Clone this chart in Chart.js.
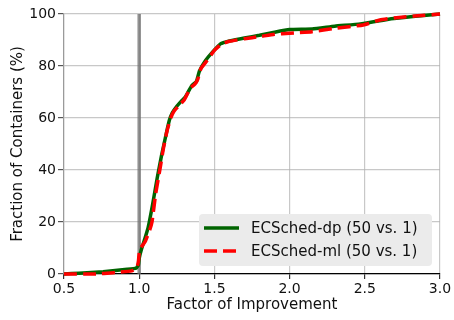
<!DOCTYPE html>
<html>
<head>
<meta charset="utf-8">
<script src="https://cdn.jsdelivr.net/npm/chart.js@4"></script>
<style>
  html, body { margin: 0; padding: 0; background: #fff; }
  #wrap { width: 454px; height: 320px; }
</style>
</head>
<body>
<div id="wrap"><canvas id="cdfChart" width="454" height="320"></canvas></div>
<script>
// CDF of factor of improvement
const factorDp   = [0.5, 0.6, 0.76, 0.92, 0.98, 0.995, 1.0, 1.015, 1.04, 1.06, 1.09, 1.12, 1.15, 1.18, 1.2, 1.22, 1.25, 1.28, 1.305, 1.33, 1.35, 1.38, 1.4, 1.44, 1.49, 1.54, 1.6, 1.7, 1.8, 1.9, 2.0, 2.15, 2.3, 2.47, 2.65, 2.82, 3.0];
const fractionDp = [0, 0.3, 0.9, 1.8, 2.3, 3.5, 6, 9.5, 14, 18, 27, 37, 46, 54, 59, 62, 64.5, 66.5, 68, 70.5, 72.5, 74, 78, 82, 85.5, 88.5, 89.6, 90.8, 91.8, 93, 94, 94.2, 95.3, 96.2, 97.9, 99, 100];

const factorMl   = [0.5, 0.7, 0.83, 0.95, 0.985, 0.995, 1.0, 1.01, 1.04, 1.07, 1.085, 1.11, 1.14, 1.16, 1.185, 1.21, 1.23, 1.26, 1.3, 1.34, 1.37, 1.39, 1.41, 1.45, 1.5, 1.55, 1.6, 1.7, 1.8, 1.9, 2.0, 2.15, 2.3, 2.49, 2.6, 2.71, 2.85, 3.0];
const fractionMl = [0, 0, 0.5, 1.2, 2.5, 5, 8, 10, 12.5, 17, 20, 31, 41, 48, 55, 60, 62.5, 64.5, 67, 71.5, 73, 75, 79, 82, 86, 88.5, 89.5, 90.5, 91.3, 92.2, 92.6, 93.2, 94.5, 95.8, 97.7, 98.6, 99.3, 100];

const baselineX = [1.0, 1.0];
const baselineY = [0, 100];

const xTicks = [0.5, 1.0, 1.5, 2.0, 2.5, 3.0];
const yTicks = [0, 20, 40, 60, 80, 100];

const labelDp = 'ECSched-dp (50 vs. 1)';
const labelMl = 'ECSched-ml (50 vs. 1)';

const toPoints = (xs, ys) => xs.map((x, i) => ({ x: x, y: ys[i] }));

const FONT = 'DejaVu Sans';

// legend drawn inside the plot, bottom right, like the original
const insideLegend = {
    id: 'insideLegend',
    afterDraw(chart) {
        const ctx = chart.ctx;
        const area = chart.chartArea;
        const w = 233, h = 52;
        const x0 = area.right - 8 - w;
        const y0 = area.bottom - 8 - h;
        ctx.save();
        ctx.fillStyle = '#ebebeb';
        ctx.beginPath();
        ctx.roundRect(x0, y0, w, h, 4);
        ctx.fill();

        const items = chart.data.datasets.filter(d => d.label);
        items.forEach((d, i) => {
            const cy = y0 + 14 + i * 23;
            ctx.strokeStyle = d.borderColor;
            ctx.lineWidth = d.borderWidth;
            ctx.setLineDash(d.borderDash || []);
            ctx.beginPath();
            ctx.moveTo(x0 + 5, cy);
            ctx.lineTo(x0 + 40, cy);
            ctx.stroke();
            ctx.setLineDash([]);
            ctx.fillStyle = '#111';
            ctx.font = '15px "' + FONT + '"';
            ctx.textBaseline = 'middle';
            ctx.fillText(d.label, x0 + 52, cy + 1);
        });
        ctx.restore();
    }
};

new Chart(document.getElementById('cdfChart'), {
    type: 'scatter',
    data: {
        datasets: [
            {
                label: labelDp,
                data: toPoints(factorDp, fractionDp),
                showLine: true,
                borderColor: '#006400',
                borderWidth: 3.5,
                pointRadius: 0,
                tension: 0.15,
                clip: 4,
                order: 1
            },
            {
                label: labelMl,
                data: toPoints(factorMl, fractionMl),
                showLine: true,
                borderColor: '#ff0000',
                borderWidth: 3.5,
                borderDash: [13, 6],
                pointRadius: 0,
                tension: 0.15,
                clip: 4,
                order: 0
            },
            {
                label: '',
                data: toPoints(baselineX, baselineY),
                showLine: true,
                borderColor: 'rgba(110,110,110,0.75)',
                borderWidth: 3.5,
                pointRadius: 0,
                order: 2
            }
        ]
    },
    plugins: [insideLegend],
    options: {
        responsive: false,
        animation: false,
        layout: { padding: { top: 14, right: 14, left: 0, bottom: 0 } },
        plugins: {
            legend: { display: false },
            tooltip: { enabled: false }
        },
        scales: {
            x: {
                type: 'linear',
                min: 0.5,
                max: 3.0,
                afterBuildTicks: s => { s.ticks = xTicks.map(v => ({ value: v })); },
                afterFit: s => { s.height = 46; },
                ticks: {
                    color: '#111',
                    font: { family: FONT, size: 14 },
                    padding: 2,
                    maxRotation: 0,
                    callback: v => Number(v).toFixed(1)
                },
                grid: {
                    color: 'rgba(176,176,176,0.7)',
                    lineWidth: 1.2,
                    tickLength: 5,
                    tickColor: '#333'
                },
                border: { color: '#000', width: 1.3 },
                title: {
                    display: true,
                    text: 'Factor of Improvement',
                    color: '#111',
                    font: { family: FONT, size: 15 },
                    padding: { top: 0, bottom: 6 }
                }
            },
            y: {
                type: 'linear',
                min: 0,
                max: 100,
                afterBuildTicks: s => { s.ticks = yTicks.map(v => ({ value: v })); },
                afterFit: s => { s.width = 64; },
                ticks: {
                    color: '#111',
                    font: { family: FONT, size: 14 },
                    padding: 2
                },
                grid: {
                    color: 'rgba(176,176,176,0.7)',
                    lineWidth: 1.2,
                    tickLength: 6,
                    tickColor: '#555'
                },
                border: { color: 'rgba(150,150,150,0.9)', width: 1.2 },
                title: {
                    display: true,
                    text: 'Fraction of Containers (%)',
                    color: '#111',
                    font: { family: FONT, size: 15 },
                    padding: { top: 9, bottom: 0 }
                }
            }
        }
    }
});
</script>
</body>
</html>
